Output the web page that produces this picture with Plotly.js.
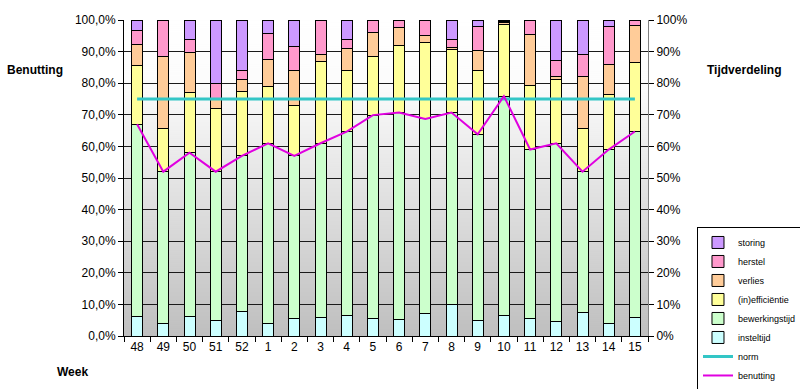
<!DOCTYPE html>
<html>
<head>
<meta charset="utf-8">
<script src="https://cdn.plot.ly/plotly-3.0.1.min.js"></script>
<style>html,body{margin:0;padding:0;background:#fff;}#chart{width:800px;height:389px;}</style>
</head>
<body>
<div id="chart"></div>
<script>
const weeks = ['48','49','50','51','52','1','2','3','4','5','6','7','8','9','10','11','12','13','14','15'];
const insteltijd     = [6.3,4.0,6.3,4.9,7.8,3.8,5.6,5.9,6.6,5.5,5.3,7.2,10.0,5.0,6.6,5.6,4.6,7.5,4.0,5.9];
const bewerkingstijd = [60.7,48.0,51.7,47.1,49.2,57.2,51.4,55.1,58.1,64.4,65.4,61.5,60.7,58.8,69.3,53.4,56.4,44.5,55.0,58.8];
const inefficientie  = [18.5,13.7,19.1,20.1,20.5,18.0,16.1,25.8,19.4,18.5,21.2,24.1,20.0,20.3,22.7,20.2,20.1,13.7,17.5,21.7];
const verlies        = [6.8,22.8,12.7,3.1,3.6,8.4,11.0,2.3,6.9,7.7,5.7,2.2,0.7,6.1,0.5,16.1,0.9,16.5,9.5,11.9];
const herstel        = [4.4,11.5,4.1,4.6,2.8,8.3,7.6,10.9,2.9,3.9,2.4,5.0,2.5,7.7,0.4,4.7,5.2,6.9,12.0,1.6];
const storing        = [3.3,0,6.1,20.2,16.1,4.3,8.3,0,6.1,0,0,0,6.1,2.1,0.5,0,12.8,10.9,2.0,0];
const norm           = [75,75,75,75,75,75,75,75,75,75,75,75,75,75,75,75,75,75,75,75];
const benutting      = [67,52,58,52,57,61,57,61,64.7,69.9,70.7,68.7,70.7,63.8,75.9,59,61,52,59,64.7];

const FONT = 'Arial, "Liberation Sans", sans-serif';

function bar(name, y, color, rank) {
  return {type:'bar', name:name, x:weeks, y:y, legendrank:rank,
    marker:{color:color, line:{color:'#000', width:1}}, hoverinfo:'skip'};
}

const traces = [
  bar('insteltijd', insteltijd, '#ccffff', 6),
  bar('bewerkingstijd', bewerkingstijd, '#ccffcc', 5),
  bar('(in)efficiëntie', inefficientie, '#ffff99', 4),
  bar('verlies', verlies, '#ffcc99', 3),
  bar('herstel', herstel, '#ff99cc', 2),
  bar('storing', storing, '#cc99ff', 1),
  {type:'scatter', mode:'lines', name:'norm', x:weeks, y:norm, legendrank:7,
    line:{color:'#33c6c6', width:3}},
  {type:'scatter', mode:'lines', name:'benutting', x:weeks, y:benutting, legendrank:8,
    line:{color:'#e000e0', width:2}}
];

// gradient background image
const cv = document.createElement('canvas');
cv.width = 4; cv.height = 316;
const ctx = cv.getContext('2d');
const g = ctx.createLinearGradient(0,0,0,316);
g.addColorStop(0,'#ffffff');
g.addColorStop(0.2,'#fcfcfc');
g.addColorStop(1,'#bfbfbf');
ctx.fillStyle = g; ctx.fillRect(0,0,4,316);
const bgUrl = cv.toDataURL('image/png');

const layout = {
  width:800, height:389,
  margin:{l:124, r:152, t:20, b:53, pad:0, autoexpand:false},
  paper_bgcolor:'#ffffff',
  plot_bgcolor:'rgba(0,0,0,0)',
  separators:',.',
  barmode:'stack',
  bargap:0.58,
  showlegend:true,
  font:{family:FONT, size:11, color:'#000'},
  images:[{source:bgUrl, xref:'x domain', yref:'y domain', x:0, y:1, sizex:1, sizey:1,
    sizing:'stretch', layer:'below', xanchor:'left', yanchor:'top'}],
  xaxis:{type:'category', showline:true, linecolor:'#000', linewidth:1,
    ticks:'outside', tickson:'boundaries', ticklen:5, tickcolor:'#000',
    showgrid:false, tickfont:{size:12, family:FONT}, fixedrange:true},
  yaxis:{range:[0,100], dtick:10, tickformat:'.1f', ticksuffix:'%',
    showline:true, linecolor:'#000', linewidth:1, ticks:'outside', ticklen:5, tickcolor:'#000',
    showgrid:true, gridcolor:'#1a1a1a', gridwidth:1, zeroline:false,
    tickfont:{size:12, family:FONT}, fixedrange:true},
  yaxis2:{range:[0,100], dtick:10, tickformat:'d', ticksuffix:'%', overlaying:'y', side:'right',
    showline:true, linecolor:'#808080', linewidth:1, ticks:'outside', ticklen:5, tickcolor:'#000',
    showgrid:false, zeroline:false, tickfont:{size:12, family:FONT}, fixedrange:true},
  legend:{x:1.0935, y:0.345, xanchor:'left', yanchor:'top', traceorder:'normal',
    bgcolor:'#ffffff', bordercolor:'#000', borderwidth:1,
    font:{size:9, family:FONT}, itemwidth:30, tracegroupgap:0},
  annotations:[
    {text:'<b>Benutting</b>', xref:'paper', yref:'paper', x:-0.17, y:0.842, xanchor:'center', yanchor:'middle',
      showarrow:false, font:{size:12, family:FONT}},
    {text:'<b>Tijdverdeling</b>', xref:'paper', yref:'paper', x:1.109, y:0.842, xanchor:'left', yanchor:'middle',
      showarrow:false, font:{size:12, family:FONT}},
    {text:'<b>Week</b>', xref:'paper', yref:'paper', x:-0.099, y:-0.114, xanchor:'center', yanchor:'middle',
      showarrow:false, font:{size:12, family:FONT}}
  ]
};

// dummy trace to activate yaxis2
traces.push({type:'scatter', x:weeks, y:norm, yaxis:'y2', mode:'none', showlegend:false, hoverinfo:'skip'});

Plotly.newPlot('chart', traces, layout, {displayModeBar:false, staticPlot:true});
</script>
</body>
</html>
